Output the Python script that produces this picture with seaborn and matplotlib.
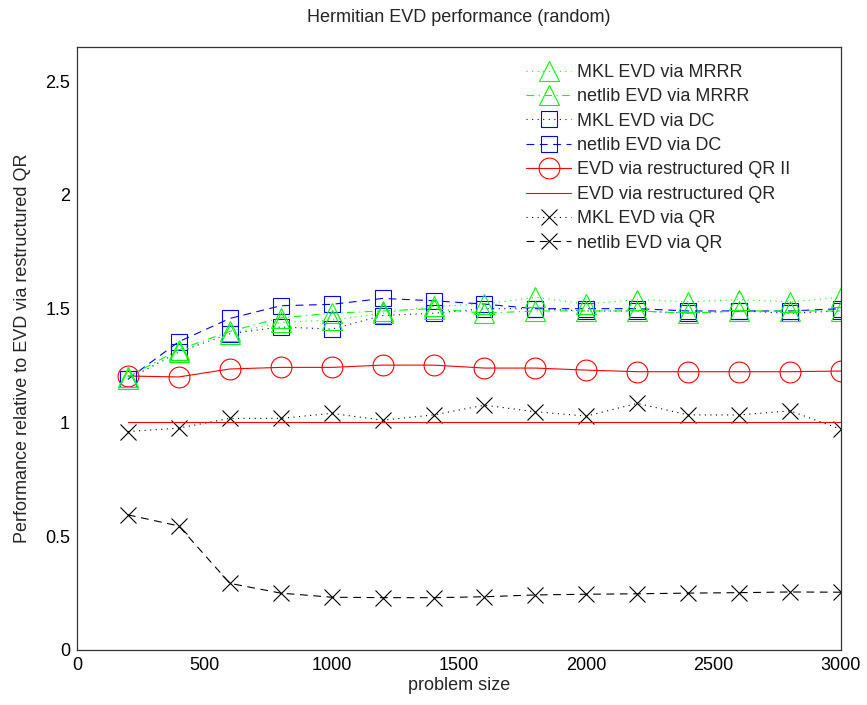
import matplotlib
matplotlib.use("Agg")
import matplotlib.pyplot as plt
import seaborn as sns
import numpy as np

sizes = [200, 400, 600, 800, 1000, 1200, 1400, 1600, 1800, 2000, 2200, 2400, 2600, 2800, 3000]

mkl_mrrr = [1.19, 1.31, 1.39, 1.44, 1.45, 1.48, 1.51, 1.52, 1.55, 1.52, 1.54, 1.53, 1.54, 1.53, 1.55]
netlib_mrrr = [1.20, 1.32, 1.40, 1.46, 1.48, 1.49, 1.50, 1.48, 1.49, 1.49, 1.49, 1.48, 1.49, 1.49, 1.49]
mkl_dc = [1.19, 1.31, 1.39, 1.42, 1.41, 1.47, 1.48, 1.50, 1.50, 1.49, 1.49, 1.48, 1.49, 1.48, 1.49]
netlib_dc = [1.19, 1.355, 1.457, 1.513, 1.519, 1.545, 1.535, 1.52, 1.50, 1.50, 1.50, 1.49, 1.49, 1.49, 1.50]
qr2 = [1.204, 1.200, 1.235, 1.242, 1.242, 1.252, 1.252, 1.239, 1.239, 1.230, 1.223, 1.223, 1.223, 1.223, 1.226]
qr = [1.0] * 15
mkl_qr = [0.96, 0.975, 1.018, 1.018, 1.04, 1.01, 1.033, 1.076, 1.047, 1.028, 1.084, 1.033, 1.033, 1.051, 0.97]
netlib_qr = [0.594, 0.545, 0.293, 0.250, 0.232, 0.230, 0.230, 0.234, 0.242, 0.245, 0.247, 0.250, 0.252, 0.255, 0.254]

labels = ["MKL EVD via MRRR", "netlib EVD via MRRR", "MKL EVD via DC", "netlib EVD via DC",
          "EVD via restructured QR II", "EVD via restructured QR", "MKL EVD via QR", "netlib EVD via QR"]

sns.set_style("white")
plt.rcParams['font.family'] = ['Liberation Sans', 'DejaVu Sans']
plt.rcParams['font.size'] = 13

fig = plt.figure(figsize=(8.67, 7.05), dpi=100)
ax = fig.add_axes([77/867, 55/705, 764/867, 603/705])

DOT = (0, (1, 4))
DASH = (0, (7, 5))
DASHDOT = (0, (7, 4, 1, 4))

specs = [
    (mkl_mrrr, labels[0], '#00ff00', DOT, '^', 15),
    (netlib_mrrr, labels[1], '#00ff00', DASHDOT, '^', 15),
    (mkl_dc, labels[2], '#0000ff', DOT, 's', 12),
    (netlib_dc, labels[3], '#0000ff', DASH, 's', 12),
    (qr2, labels[4], '#ff0000', '-', 'o', 15),
    (qr, labels[5], '#ff0000', '-', None, 0),
    (mkl_qr, labels[6], '#000000', DOT, 'x', 11),
    (netlib_qr, labels[7], '#000000', DASH, 'x', 11),
]

for vals, lab, col, ls, mk, ms in reversed(specs):
    kw = dict(x=sizes, y=vals, ax=ax, color=col, linestyle=ls, linewidth=0.8, label=lab)
    if mk is not None:
        kw.update(marker=mk, markersize=ms, markerfacecolor='none',
                  markeredgecolor=col, markeredgewidth=0.8)
    sns.lineplot(**kw)

hs, ls_ = ax.get_legend_handles_labels()
order = [ls_.index(l) for l in labels]
ax.legend([hs[i] for i in order], labels, loc='upper left',
          bbox_to_anchor=((526 - 77) / 764, 0.972), frameon=False,
          borderpad=0, borderaxespad=0, handlelength=2.5, handletextpad=0.35,
          labelspacing=0.41, fontsize=13)

ax.set_xlim(0, 3000)
ax.set_ylim(0, 2.65)
ax.set_xticks([0, 500, 1000, 1500, 2000, 2500, 3000])
ax.set_yticks([0, 0.5, 1, 1.5, 2, 2.5])
ax.set_yticklabels(['0', '0.5', '1', '1.5', '2', '2.5'])
ax.tick_params(direction='in', length=7, width=0.8, colors='#000000', pad=5, labelsize=13)
for s in ax.spines.values():
    s.set_color('#333333')
    s.set_linewidth(0.9)
    s.set_visible(True)

ax.set_title("Hermitian EVD performance (random)", fontsize=13, pad=18)
ax.set_xlabel("problem size", fontsize=13, labelpad=2)
ax.set_ylabel("Performance relative to EVD via restructured QR", fontsize=13, labelpad=10)

fig.savefig("out.png", dpi=100)
